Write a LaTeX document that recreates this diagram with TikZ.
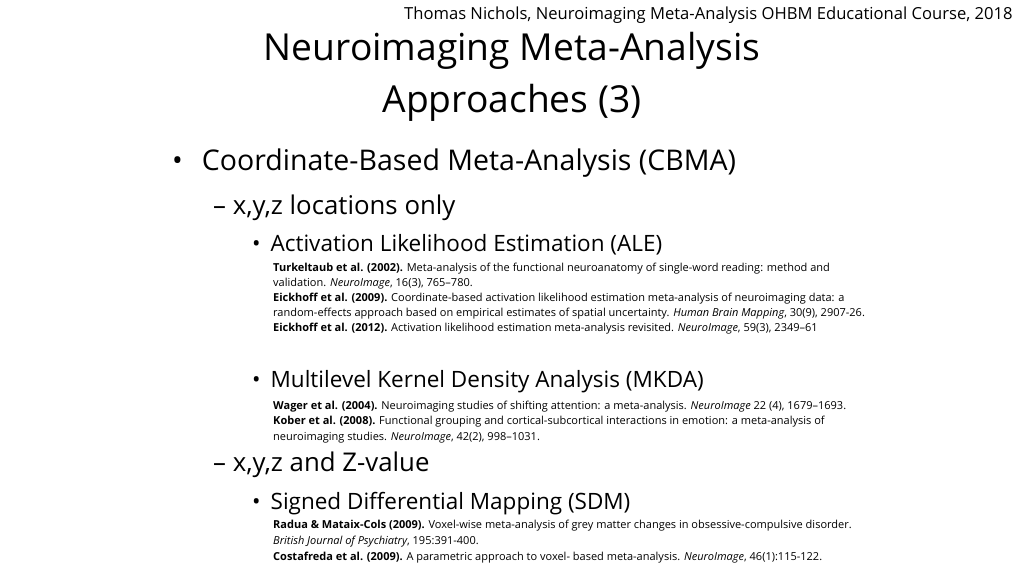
\documentclass[tikz,border=0pt]{standalone}
\usepackage{fontspec}
\setmainfont{Open Sans}
\begin{document}
\begin{tikzpicture}[x=1pt,y=-1pt,
  txt/.style={anchor=base west,inner sep=0pt},
  hdr/.style={txt,font=\fontsize{16.6}{18}\selectfont},
  ttl/.style={anchor=base,inner sep=0pt,font=\fontsize{37.2}{44}\selectfont},
  lvone/.style={txt,font=\fontsize{28.5}{32}\selectfont},
  lvtwo/.style={txt,font=\fontsize{25.8}{28}\selectfont},
  lvthree/.style={txt,font=\fontsize{22.5}{25}\selectfont},
  ref/.style={txt,font=\fontsize{11}{13}\selectfont}]
\useasboundingbox (0,0) rectangle (1024,576);
\node[hdr] (h) at (404,19) {Thomas Nichols, Neuroimaging Meta-Analysis OHBM Educational Course, 2018};
\node[ttl] (t1) at (512,60) {Neuroimaging Meta-Analysis};
\node[ttl] (t2) at (512,112) {Approaches (3)};
\node[lvone] (b1) at (172,170) {•\hspace{19pt}Coordinate-Based Meta-Analysis (CBMA)};
\node[lvtwo] (b2) at (213,214) {– x,y,z locations only};
\node[lvthree] (b3) at (252,251) {•\hspace{10pt}Activation Likelihood Estimation (ALE)};
\node[ref] (r1) at (273,271) {\textbf{Turkeltaub et al. (2002).} Meta-analysis of the functional neuroanatomy of single-word reading: method and};
\node[ref] (r2) at (273,286) {validation. \textit{NeuroImage}, 16(3), 765–780.};
\node[ref] (r3) at (273,301) {\textbf{Eickhoff et al. (2009).} Coordinate-based activation likelihood estimation meta-analysis of neuroimaging data: a};
\node[ref] (r4) at (273,316) {random-effects approach based on empirical estimates of spatial uncertainty. \textit{Human Brain Mapping}, 30(9), 2907-26.};
\node[ref] (r5) at (273,331) {\textbf{Eickhoff et al. (2012).} Activation likelihood estimation meta-analysis revisited. \textit{NeuroImage}, 59(3), 2349–61};
\node[lvthree] (b4) at (252,387) {•\hspace{10pt}Multilevel Kernel Density Analysis (MKDA)};
\node[ref] (r6) at (273,409) {\textbf{Wager et al. (2004).} Neuroimaging studies of shifting attention: a meta-analysis. \textit{NeuroImage} 22 (4), 1679–1693.};
\node[ref] (r7) at (273,424) {\textbf{Kober et al. (2008).} Functional grouping and cortical-subcortical interactions in emotion: a meta-analysis of};
\node[ref] (r8) at (273,440) {neuroimaging studies. \textit{NeuroImage}, 42(2), 998–1031.};
\node[lvtwo] (b5) at (213,471) {– x,y,z and Z-value};
\node[lvthree] (b6) at (252,509) {•\hspace{10pt}Signed Differential Mapping (SDM)};
\node[ref] (r9) at (273,528) {\textbf{Radua \& Mataix-Cols (2009).} Voxel-wise meta-analysis of grey matter changes in obsessive-compulsive disorder.};
\node[ref] (r10) at (273,544) {\textit{British Journal of Psychiatry}, 195:391-400.};
\node[ref] (r11) at (273,560) {\textbf{Costafreda et al. (2009).} A parametric approach to voxel- based meta-analysis. \textit{NeuroImage}, 46(1):115-122.};
\end{tikzpicture}
\end{document}
